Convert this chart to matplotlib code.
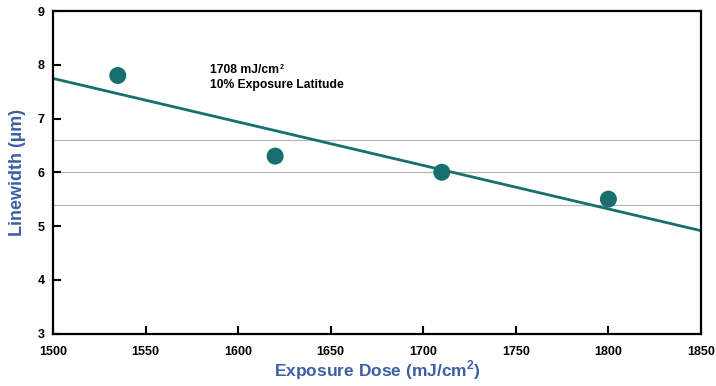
import numpy as np
import matplotlib
matplotlib.use("Agg")
import matplotlib.pyplot as plt
from matplotlib import font_manager

dose = [1535, 1620, 1710, 1800]
linewidth = [7.8, 6.3, 6.0, 5.5]
ref_lines = [6.6, 6.0, 5.4]
x_ticks = [1500, 1550, 1600, 1650, 1700, 1750, 1800, 1850]
y_ticks = [3, 4, 5, 6, 7, 8, 9]
note_lines = ["1708 mJ/cm", "10% Exposure Latitude"]

names = {f.name for f in font_manager.fontManager.ttflist}
fam = "Liberation Sans Narrow" if "Liberation Sans Narrow" in names else "Liberation Sans"
plt.rcParams["font.family"] = [fam, "DejaVu Sans"]
plt.rcParams["mathtext.fontset"] = "custom"
plt.rcParams["mathtext.rm"] = fam
plt.rcParams["mathtext.bf"] = fam + ":bold"

teal = "#17706f"
blue = "#3b60a3"

fig = plt.figure(figsize=(7.16, 3.86), dpi=100)
ax = fig.add_axes([0.074, 0.136, 0.905, 0.8355])

for r in ref_lines:
    ax.axhline(r, color="#b4b4b4", lw=0.8, zorder=1)

coef = np.polyfit(dose, linewidth, 1)
xs = np.array([x_ticks[0], x_ticks[-1]])
ax.plot(xs, np.polyval(coef, xs), color=teal, lw=2.0, zorder=2)
ax.scatter(dose, linewidth, s=150, color=teal, zorder=3, edgecolors="none")

ax.set_xlim(x_ticks[0], x_ticks[-1])
ax.set_ylim(y_ticks[0], y_ticks[-1])
ax.set_xticks(x_ticks)
ax.set_yticks(y_ticks)
ax.tick_params(direction="in", length=6, width=1.5, labelsize=9,
               top=False, right=False)
ax.tick_params(axis="x", pad=9)
ax.tick_params(axis="y", pad=6)
for lab in ax.get_xticklabels() + ax.get_yticklabels():
    lab.set_fontweight("bold")
for s in ax.spines.values():
    s.set_linewidth(1.6)

t1 = ax.text(1585, 7.9, note_lines[0], fontsize=8.7, fontweight="bold",
             va="center", ha="left")
ax.annotate("2", xy=(1, 1), xycoords=t1, xytext=(0.6, 0), textcoords="offset points",
            fontsize=5, fontweight="bold", va="top", ha="left")
ax.text(1585, 7.63, note_lines[1], fontsize=8.7, fontweight="bold",
        va="center", ha="left")

ax.set_xlabel("Exposure Dose (mJ/cm$^{\\mathbf{2}}$)", color=blue, fontsize=12.5,
              fontweight="bold", labelpad=0)
ax.set_ylabel("Linewidth (µm)", color=blue, fontsize=13, fontweight="bold", labelpad=8)

fig.savefig("out.png", dpi=100)
